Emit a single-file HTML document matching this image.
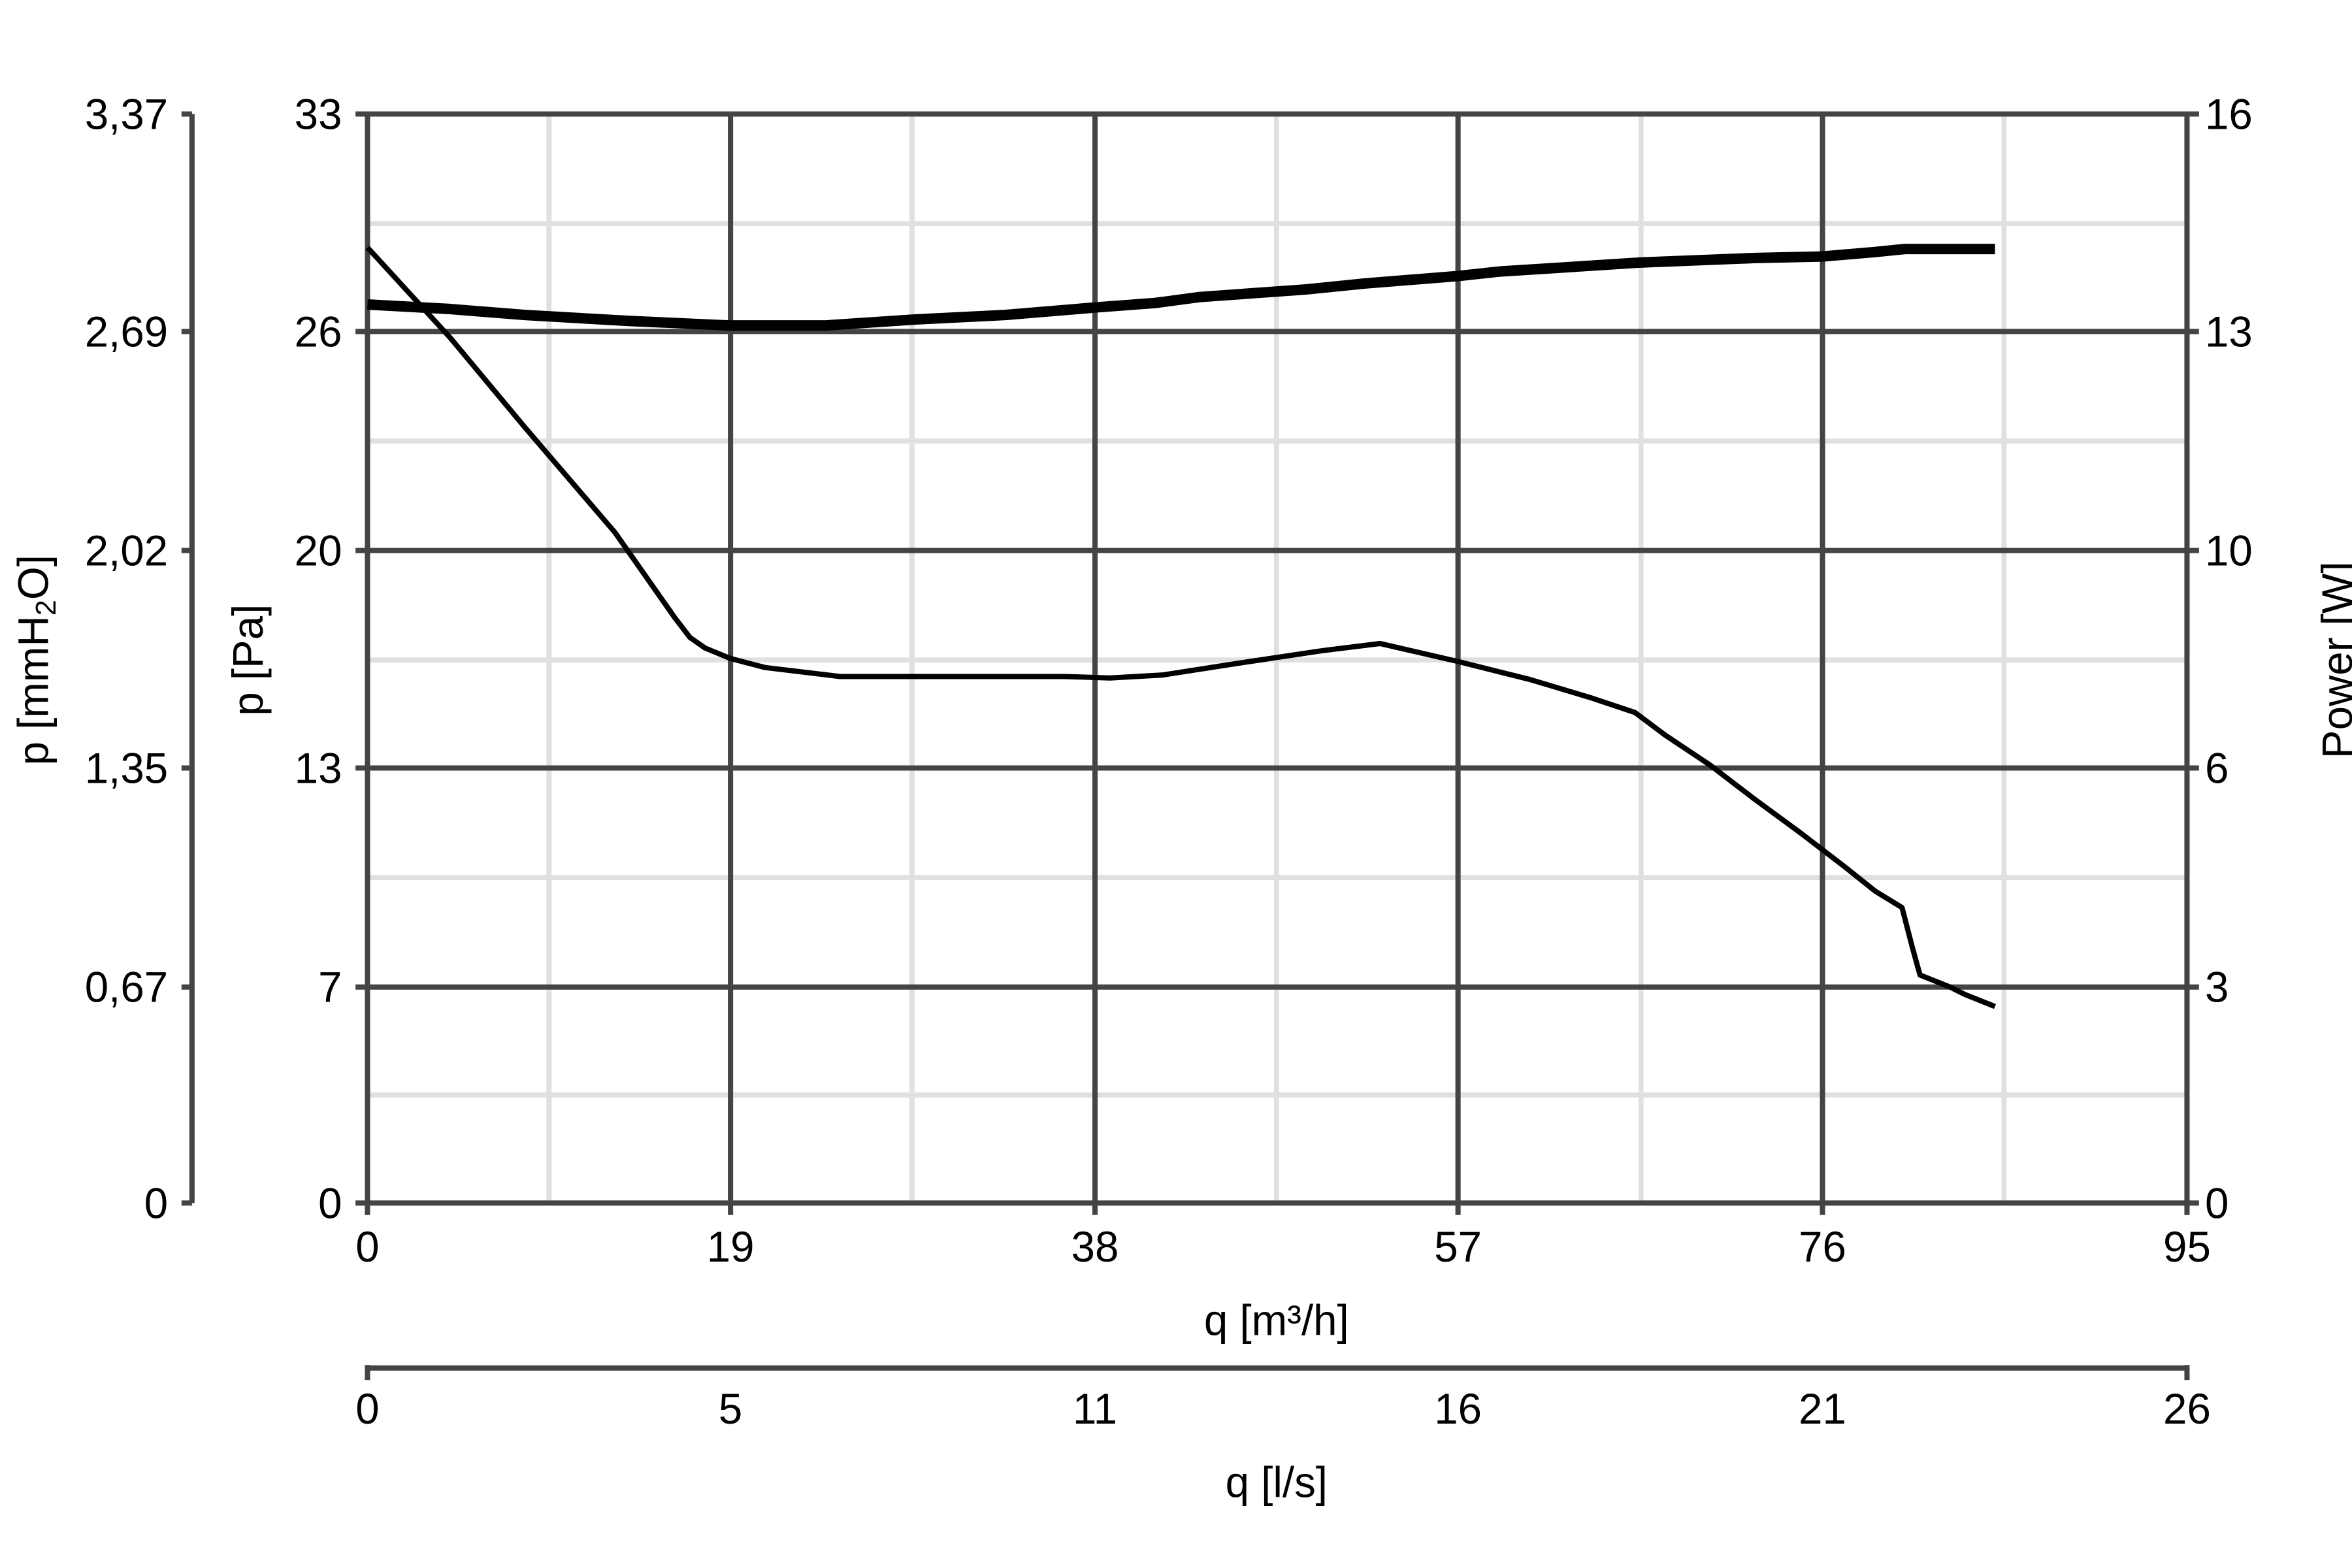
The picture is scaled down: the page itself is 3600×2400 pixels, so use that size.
<!DOCTYPE html>
<html><head><meta charset="utf-8"><style>html,body{margin:0;padding:0;background:#fff}svg{display:block}</style></head>
<body>
<svg width="3600" height="2400" viewBox="0 0 1568 1045.33" preserveAspectRatio="none" xmlns="http://www.w3.org/2000/svg" font-family="Liberation Sans, sans-serif" font-size="28.5" fill="#000">
<g stroke="#e0e0e0" stroke-width="3.4">
<line x1="366" y1="76" x2="366" y2="802"/><line x1="608" y1="76" x2="608" y2="802"/><line x1="851" y1="76" x2="851" y2="802"/><line x1="1094" y1="76" x2="1094" y2="802"/><line x1="1336" y1="76" x2="1336" y2="802"/>
<line x1="245" y1="149" x2="1458" y2="149"/><line x1="245" y1="294" x2="1458" y2="294"/><line x1="245" y1="440" x2="1458" y2="440"/><line x1="245" y1="585" x2="1458" y2="585"/><line x1="245" y1="730" x2="1458" y2="730"/>
</g>
<g stroke="#444" stroke-width="3.5">
<line x1="487" y1="76" x2="487" y2="802"/><line x1="730" y1="76" x2="730" y2="802"/><line x1="972" y1="76" x2="972" y2="802"/><line x1="1215" y1="76" x2="1215" y2="802"/>
<line x1="237" y1="76" x2="1466" y2="76"/><line x1="237" y1="221" x2="1466" y2="221"/><line x1="237" y1="367" x2="1466" y2="367"/><line x1="237" y1="512" x2="1466" y2="512"/><line x1="237" y1="658" x2="1466" y2="658"/><line x1="237" y1="802" x2="1466" y2="802"/>
<line x1="245" y1="76" x2="245" y2="810"/><line x1="1458" y1="76" x2="1458" y2="810"/>
<line x1="487" y1="802" x2="487" y2="810"/><line x1="730" y1="802" x2="730" y2="810"/><line x1="972" y1="802" x2="972" y2="810"/><line x1="1215" y1="802" x2="1215" y2="810"/>
<line x1="128" y1="76" x2="128" y2="802"/>
<line x1="121" y1="76" x2="128" y2="76"/><line x1="121" y1="221" x2="128" y2="221"/><line x1="121" y1="367" x2="128" y2="367"/><line x1="121" y1="512" x2="128" y2="512"/><line x1="121" y1="658" x2="128" y2="658"/><line x1="121" y1="802" x2="128" y2="802"/>
<line x1="245" y1="912" x2="1458" y2="912"/><line x1="245" y1="910" x2="245" y2="920"/><line x1="1458" y1="910" x2="1458" y2="920"/>
</g>
<polyline fill="none" stroke="#000" stroke-width="7" stroke-linejoin="round" points="245,203 300,206 350,210 420,214 487,217 550,217 610,213 670,210 730,205 770,202 800,198 870,193 910,189 972,184 1000,181 1094,175 1170,172 1215,171 1250,168 1270,166 1330,166"/>
<polyline fill="none" stroke="#000" stroke-width="3.5" stroke-linejoin="round" points="245,165 300,225 350,285 410,355 450,412 460,425 470,432 487,439 510,445 560,451 710,451 740,452 775,450 820,443 880,434 920,429 972,441 1020,453 1060,465 1090,475 1110,490 1140,510 1170,533 1200,555 1230,578 1250,594 1268,605 1275,632 1280,650 1300,658 1310,663 1330,671"/>
<g text-anchor="end">
<text x="112" y="86">3,37</text><text x="112" y="231">2,69</text><text x="112" y="377">2,02</text><text x="112" y="522">1,35</text><text x="112" y="668">0,67</text><text x="112" y="812">0</text>
<text x="228" y="86">33</text><text x="228" y="231">26</text><text x="228" y="377">20</text><text x="228" y="522">13</text><text x="228" y="668">7</text><text x="228" y="812">0</text>
</g>
<g text-anchor="start">
<text x="1470" y="86">16</text><text x="1470" y="231">13</text><text x="1470" y="377">10</text><text x="1470" y="522">6</text><text x="1470" y="668">3</text><text x="1470" y="812">0</text>
</g>
<g text-anchor="middle">
<text x="245" y="841">0</text><text x="487" y="841">19</text><text x="730" y="841">38</text><text x="972" y="841">57</text><text x="1215" y="841">76</text><text x="1458" y="841">95</text>
<text x="851" y="890">q [m³/h]</text>
<text x="245" y="949">0</text><text x="487" y="949">5</text><text x="730" y="949">11</text><text x="972" y="949">16</text><text x="1215" y="949">21</text><text x="1458" y="949">26</text>
<text x="851" y="998">q [l/s]</text>
<text transform="translate(32,440) rotate(-90)">p [mmH<tspan font-size="19" dy="5">2</tspan><tspan dy="-5">O]</tspan></text>
<text transform="translate(175,440) rotate(-90)">p [Pa]</text>
<text transform="translate(1568,440) rotate(-90)">Power [W]</text>
</g>
</svg>
</body></html>
